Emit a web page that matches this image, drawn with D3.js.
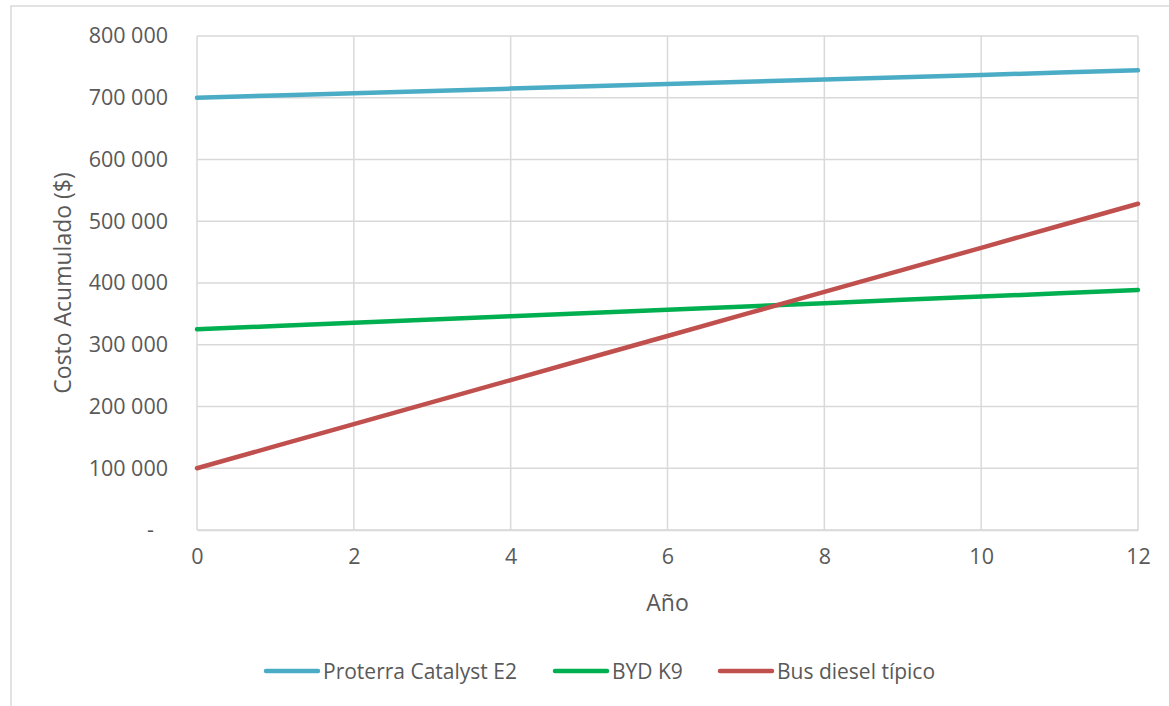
<!DOCTYPE html>
<html>
<head>
<meta charset="utf-8">
<script src="https://cdn.jsdelivr.net/npm/d3@7"></script>
<style>
  body { margin: 0; background: #fff; }
  svg text { font-family: "Open Sans", "Noto Sans", sans-serif; fill: #595959; }
</style>
</head>
<body>
<div id="chart"></div>
<script>
// data
const years = [0, 1, 2, 3, 4, 5, 6, 7, 8, 9, 10, 11, 12];
const proterra = [700000, 703700, 707400, 711100, 714800, 718500, 722200, 725900, 729600, 733300, 737000, 740700, 744400];
const byd = [325000, 330300, 335600, 340900, 346200, 351500, 356800, 362100, 367400, 372700, 378000, 383300, 388600];
const diesel = [100000, 135700, 171400, 207100, 242800, 278500, 314200, 349900, 385600, 421300, 457000, 492700, 528400];
const seriesNames = ["Proterra Catalyst E2", "BYD K9", "Bus diesel típico"];
const xTicks = [0, 2, 4, 6, 8, 10, 12];
const yTicks = [0, 100000, 200000, 300000, 400000, 500000, 600000, 700000, 800000];

const colors = ["#4BACC6", "#00B050", "#C0504D"];
const series = [proterra, byd, diesel].map((vals, i) => ({
    name: seriesNames[i],
    color: colors[i],
    values: years.map((y, j) => ({year: y, value: vals[j]}))
}));

const W = 1169, H = 706;
const margin = {top: 36, right: 31, bottom: 176, left: 197};
const width = W - margin.left - margin.right;
const height = H - margin.top - margin.bottom;

const svg = d3.select("#chart").append("svg")
    .attr("width", W)
    .attr("height", H);

// chart area border (clipped at the top/right/bottom like the picture)
svg.append("rect")
    .attr("x", 11).attr("y", 6)
    .attr("width", W + 20).attr("height", H + 20)
    .attr("fill", "none")
    .attr("stroke", "#D9D9D9")
    .attr("stroke-width", 1.5);

const g = svg.append("g")
    .attr("transform", "translate(" + margin.left + "," + margin.top + ")");

const x = d3.scaleLinear().domain([0, 12]).range([0, width]);
const y = d3.scaleLinear().domain([0, 800000]).range([height, 0]);

// gridlines
g.selectAll(".hgrid").data(yTicks).enter().append("line")
    .attr("class", "hgrid")
    .attr("x1", 0).attr("x2", width)
    .attr("y1", d => y(d)).attr("y2", d => y(d))
    .attr("stroke", "#D9D9D9").attr("stroke-width", 1.5);

g.selectAll(".vgrid").data(xTicks).enter().append("line")
    .attr("class", "vgrid")
    .attr("y1", 0).attr("y2", height)
    .attr("x1", d => x(d)).attr("x2", d => x(d))
    .attr("stroke", "#D9D9D9").attr("stroke-width", 1.5);

// axes
const fmt = d => d === 0 ? "-" : d3.format(",")(d).replace(/,/g, " ");

const yAxis = g.append("g")
    .call(d3.axisLeft(y).tickValues(yTicks).tickFormat(fmt).tickSize(0).tickPadding(29));
yAxis.select(".domain").remove();
yAxis.selectAll("text").attr("font-size", 21.5).attr("fill", "#595959")
    .attr("font-family", "Open Sans")
    .attr("dx", d => d === 0 ? -14 : 0);

const xAxis = g.append("g")
    .attr("transform", "translate(0," + height + ")")
    .call(d3.axisBottom(x).tickValues(xTicks).tickFormat(d3.format("d")).tickSize(0).tickPadding(19));
xAxis.select(".domain").attr("stroke", "#D9D9D9").attr("stroke-width", 1.5);
xAxis.selectAll("text").attr("font-size", 21.5).attr("fill", "#595959")
    .attr("font-family", "Open Sans");

// axis titles
svg.append("text")
    .attr("transform", "translate(62," + (margin.top + height / 2) + ") rotate(-90)")
    .attr("text-anchor", "middle")
    .attr("dominant-baseline", "central")
    .attr("font-size", 23)
    .text("Costo Acumulado ($)");

svg.append("text")
    .attr("x", margin.left + width / 2)
    .attr("y", 602)
    .attr("text-anchor", "middle")
    .attr("dominant-baseline", "central")
    .attr("font-size", 23)
    .text("Año");

// lines
const line = d3.line()
    .x(d => x(d.year))
    .y(d => y(d.value));

g.selectAll(".series").data(series).enter().append("path")
    .attr("class", "series")
    .attr("d", d => line(d.values))
    .attr("fill", "none")
    .attr("stroke", d => d.color)
    .attr("stroke-width", 4.5)
    .attr("stroke-linecap", "round");

// legend
const legendX = [266, 555, 720];
const legend = svg.selectAll(".legend").data(series).enter().append("g")
    .attr("class", "legend")
    .attr("transform", (d, i) => "translate(" + legendX[i] + ",671)");

legend.append("line")
    .attr("x1", 0).attr("x2", 52)
    .attr("y1", 0).attr("y2", 0)
    .attr("stroke", d => d.color)
    .attr("stroke-width", 4.5)
    .attr("stroke-linecap", "round");

legend.append("text")
    .attr("x", 57)
    .attr("y", 0)
    .attr("dominant-baseline", "central")
    .attr("font-size", 21)
    .text(d => d.name);
</script>
</body>
</html>
